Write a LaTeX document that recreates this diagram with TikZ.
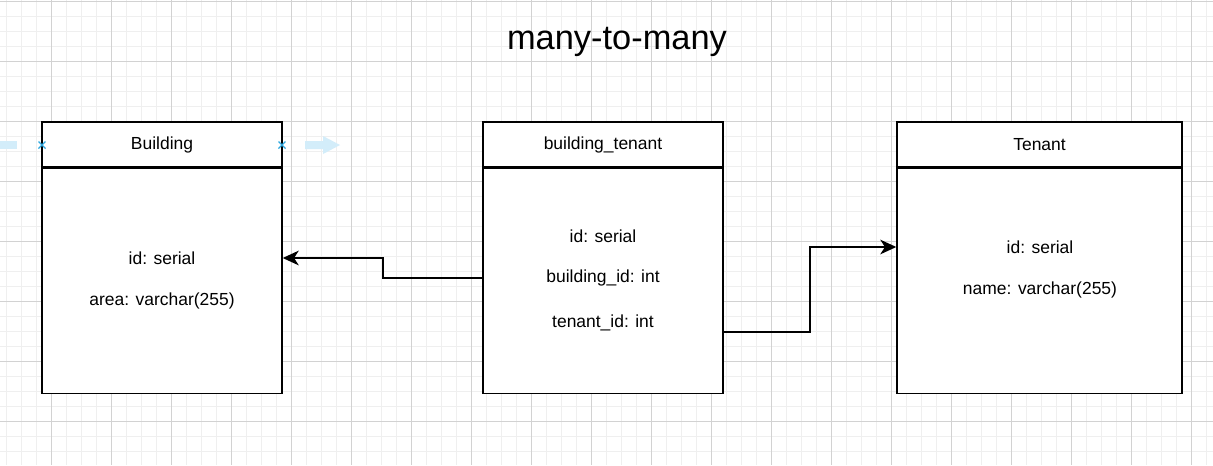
\documentclass[tikz,border=0pt]{standalone}
\usepackage{fontspec}
\setmainfont{Liberation Sans}
\usetikzlibrary{positioning, arrows.meta}
\usepackage{xcolor}

\definecolor{gridmaj}{HTML}{D2D2D2}
\definecolor{gridmin}{HTML}{EFEFEF}
\definecolor{selblue}{HTML}{2FA8DF}
\definecolor{hintblue}{HTML}{D3EDFA}

\begin{document}
\begin{tikzpicture}[x=0.75pt, y=-0.75pt,
      hdr/.style={draw, line width=1.1pt, fill=white, minimum height=33.75pt,
          inner sep=0pt, font=\fontsize{13.1}{15}\selectfont},
      tbody/.style={draw, line width=1.1pt, fill=white, minimum height=168.75pt,
          inner sep=0pt},
      row/.style={font=\fontsize{13.1}{15}\selectfont, inner sep=0pt},
      conn/.style={line width=1.2pt, -{Stealth[length=12pt, width=11pt, inset=3.5pt]}},
    ]
    \useasboundingbox (0,0) rectangle (1213,465);

    % Background grid
    \fill[white] (0,0) rectangle (1213,465);
    \foreach \x in {6,21,...,1213}
      \draw[gridmin, line width=0.6pt] (\x,0) -- (\x,465);
    \foreach \y in {1,16,...,465}
      \draw[gridmin, line width=0.6pt] (0,\y) -- (1213,\y);
    \foreach \x in {51,111,...,1213}
      \draw[gridmaj, line width=0.6pt] (\x,0) -- (\x,465);
    \foreach \y in {1,61,...,465}
      \draw[gridmaj, line width=0.6pt] (0,\y) -- (1213,\y);

    % Title
    \node[font=\fontsize{25.8}{30}\selectfont] (title) at (617,42) {many-to-many};

    % Tables
    \node[hdr, minimum width=180pt] (bldg) at (162,144.5) {Building};
    \node[tbody, minimum width=180pt, below=0pt of bldg] (bldgb) {};
    \node[hdr, minimum width=180pt] (bt) at (603,144.5) {building\_tenant};
    \node[tbody, minimum width=180pt, below=0pt of bt] (btb) {};
    \node[hdr, minimum width=213.75pt] (ten) at (1039.5,144.5) {Tenant};
    \node[tbody, minimum width=213.75pt, below=0pt of ten] (tenb) {};

    % Columns
    \node[row] (bid) at (162,258) {id: serial};
    \node[row] (barea) at (162,301) {area: varchar(255)};
    \node[row] (btid) at (603,236) {id: serial};
    \node[row] (bbid) at (603,278) {building\_id: int};
    \node[row] (btten) at (603,323) {tenant\_id: int};
    \node[row] (tid) at (1040,247) {id: serial};
    \node[row] (tname) at (1040,290) {name: varchar(255)};

    % Connectors
    \coordinate (k1) at (383,0);
    \coordinate (k2) at (810,0);
    \coordinate (s2) at (723,332);
    \draw[conn] (btb.west |- bbid) -| (k1 |- bid) -- (bldgb.east |- bid);
    \draw[conn] (btb.east |- s2) -| (k2 |- tid) -- (tenb.west |- tid);

    % Selection hints
    \fill[hintblue] (0,141) rectangle (17,149);
    \fill[hintblue] (305,141) -- (323,141) -- (323,136) -- (340,145)
      -- (323,154) -- (323,149) -- (305,149) -- cycle;
    \foreach \p in {(42,145), (282,145)}
      \draw[selblue, line width=1pt] \p +(-3.5,-3.5) -- +(3.5,3.5) \p +(-3.5,3.5) -- +(3.5,-3.5);
  \end{tikzpicture}
\end{document}
